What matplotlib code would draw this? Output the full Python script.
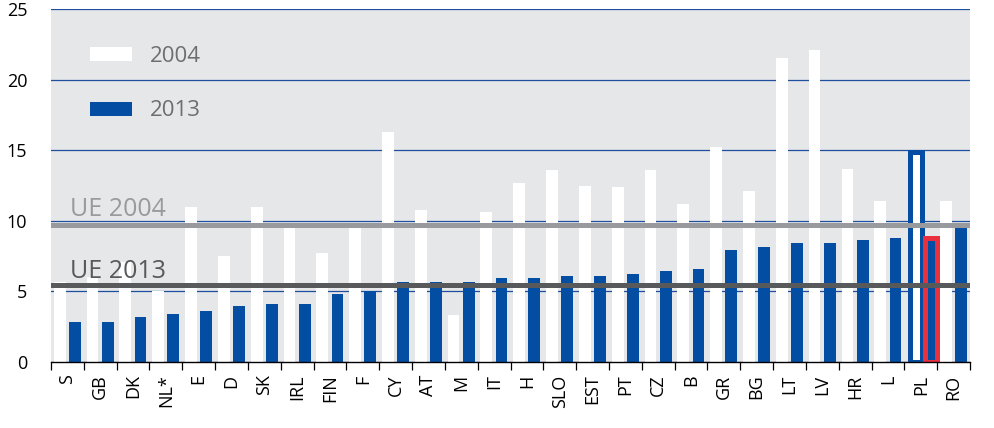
import matplotlib.pyplot as plt
from matplotlib.patches import Patch
import numpy as np

plt.rcParams['font.family'] = ['Open Sans', 'DejaVu Sans']

# Data
countries = ['S', 'GB', 'DK', 'NL*', 'E', 'D', 'SK', 'IRL', 'FIN', 'F', 'CY', 'AT', 'M', 'IT',
             'H', 'SLO', 'EST', 'PT', 'CZ', 'B', 'GR', 'BG', 'LT', 'LV', 'HR', 'L', 'PL', 'RO']
y2004 = [5.7, 6.0, 7.1, 5.0, 11.0, 7.5, 11.0, 9.5, 7.7, 9.5, 16.3, 10.8, 3.3, 10.6,
         12.7, 13.6, 12.5, 12.4, 13.6, 11.2, 15.2, 12.1, 21.5, 22.1, 13.7, 11.4, 14.9, 11.4]
y2013 = [2.8, 2.85, 3.2, 3.4, 3.6, 4.0, 4.1, 4.1, 4.85, 5.0, 5.65, 5.65, 5.65, 5.95,
         5.95, 6.1, 6.1, 6.2, 6.45, 6.6, 7.95, 8.15, 8.45, 8.45, 8.65, 8.8, 8.8, 9.5]
ue2004 = 9.7
ue2013 = 5.42
highlight = 'PL'

blue = '#034ea2'
red = '#e8303f'
bg = '#e6e7e8'

fig = plt.figure(figsize=(9.94, 4.28), dpi=100)
ax = fig.add_axes([51 / 994, 1 - 362 / 428, 919 / 994, 353 / 428])
ax.set_facecolor(bg)

x = np.arange(len(countries))
w = 0.36
off_w, off_b = -0.235, 0.228
hi = countries.index(highlight)
shift = np.where(x == hi, 0.09, 0.0)

ax.bar(x + off_w + shift, y2004, width=w, color='white', zorder=2)
ax.bar(x + off_b + shift, y2013, width=w, color=blue, zorder=2)

# highlighted country
ax.bar(hi + off_w + shift[hi], y2004[hi], width=w, color='white', edgecolor=blue,
       linewidth=3.6, zorder=3)
ax.bar(hi + off_b + shift[hi], y2013[hi], width=w, color=blue, edgecolor=red,
       linewidth=3.6, zorder=4)

# EU averages
ax.axhline(ue2004, color='#999a9d', linewidth=3.6, zorder=5)
ax.axhline(ue2013, color='#58595b', linewidth=3.6, zorder=5)
ax.annotate('UE 2004', xy=(0.021, ue2004), xycoords=('axes fraction', 'data'),
            xytext=(0, 6.5), textcoords='offset points', fontsize=18,
            color='#9a9a9c', va='baseline', zorder=6)
ax.annotate('UE 2013', xy=(0.021, ue2013), xycoords=('axes fraction', 'data'),
            xytext=(0, 5.5), textcoords='offset points', fontsize=18,
            color='#58595b', va='baseline', zorder=6)

ax.set_xlim(-0.5, len(countries) - 0.5)
ax.set_ylim(0, 25)
ax.set_yticks([0, 5, 10, 15, 20, 25])
ax.yaxis.grid(True, color='#1f4f9f', linewidth=0.9)
ax.set_axisbelow(True)

ax.set_xticks(x)
ax.set_xticklabels(countries, rotation=90, fontsize=13)
ax.set_xticks(np.arange(-0.5, len(countries)), minor=True)
ax.tick_params(axis='x', which='major', length=0, pad=9)
ax.tick_params(axis='x', which='minor', length=5.5, width=0.9, color='black')
ax.tick_params(axis='y', length=0, pad=17, labelsize=13)

for s in ['top', 'right', 'left']:
    ax.spines[s].set_visible(False)
ax.spines['bottom'].set_color('black')
ax.spines['bottom'].set_linewidth(1.0)
ax.spines['bottom'].set_zorder(6)

handles = [Patch(facecolor='white', edgecolor='none'), Patch(facecolor=blue, edgecolor='none')]
leg = ax.legend(handles, ['2004', '2013'], loc='upper left', bbox_to_anchor=(0.0424, 0.896),
                frameon=False, fontsize=16, handlelength=1.9, handleheight=0.6,
                handletextpad=0.8, labelspacing=1.52, borderpad=0, borderaxespad=0)
for t in leg.get_texts():
    t.set_color('#6d6e71')

fig.savefig('out.png', dpi=100)
